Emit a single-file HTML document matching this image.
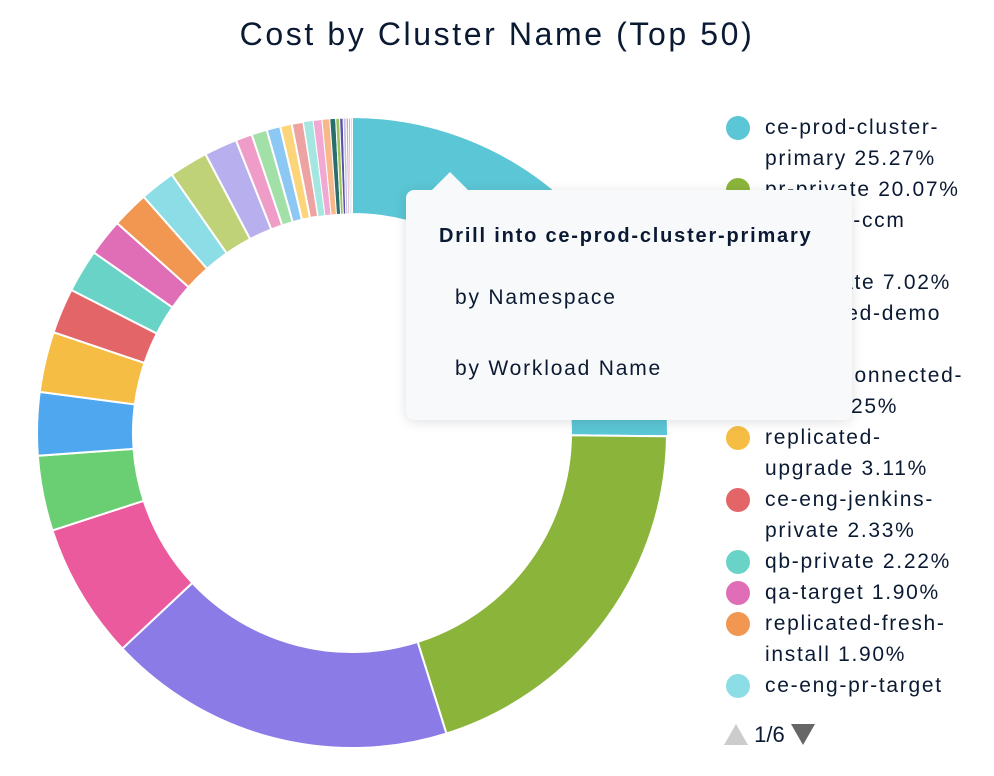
<!DOCTYPE html>
<html><head><meta charset="utf-8">
<style>
body{margin:0;background:#fff;font-family:"Liberation Sans",sans-serif;}
#wrap{position:relative;width:994px;height:776px;overflow:hidden;}
h1{position:absolute;top:16px;left:0;width:994px;text-align:center;margin:0;font-weight:normal;font-size:32px;letter-spacing:2.6px;color:#0b1a33;}
#legend{position:absolute;left:724px;top:112px;width:270px;height:594px;overflow:hidden;font-size:21px;letter-spacing:1.7px;color:#0b1a33;line-height:31px;white-space:nowrap;}
.it{position:relative;padding-left:41px;}
.it i{position:absolute;left:2px;top:4px;width:24px;height:24px;border-radius:50%;}
#tip{position:absolute;left:406px;top:190px;width:446px;height:230px;background:#f8f9fb;border-radius:8px;box-shadow:0 2px 12px rgba(0,0,0,.12);color:#0b1a33;font-size:21px;letter-spacing:1.8px;}
#tip:before{content:"";position:absolute;left:26px;top:-18px;border:18px solid transparent;border-top:0;border-bottom:18px solid #f8f9fb;}
#pg{position:absolute;left:724px;top:722px;font-size:22px;color:#0b1a33;}
</style></head><body><div id="wrap">
<h1>Cost by Cluster Name (Top 50)</h1>
<svg id="s" width="994" height="776" style="position:absolute;left:0;top:0"></svg>
<div id="legend">
<div class="it"><i style="background:#5bc6d5"></i>ce-prod-cluster-<br>primary 25.27%</div>
<div class="it"><i style="background:#8bb53a"></i>pr-private 20.07%</div>
<div class="it"><i style="background:#8a7be6"></i>ce-qa-ci-ccm<br>17.92%</div>
<div class="it"><i style="background:#eb5a9c"></i>qa-private 7.02%</div>
<div class="it"><i style="background:#6acf72"></i>replicated-demo<br>3.87%</div>
<div class="it"><i style="background:#4fa8ef"></i>airgap-connected-<br>br-qa 3.25%</div>
<div class="it"><i style="background:#f5bd43"></i>replicated-<br>upgrade 3.11%</div>
<div class="it"><i style="background:#e36567"></i>ce-eng-jenkins-<br>private 2.33%</div>
<div class="it"><i style="background:#6ad3c8"></i>qb-private 2.22%</div>
<div class="it"><i style="background:#df6eb6"></i>qa-target 1.90%</div>
<div class="it"><i style="background:#f29752"></i>replicated-fresh-<br>install 1.90%</div>
<div class="it"><i style="background:#8ddde6"></i>ce-eng-pr-target<br>1.82%</div>
</div>
<div id="pg"><svg width="24" height="22" style="vertical-align:-3px"><path d="M0,22 L12,1 L24,22Z" fill="#ccc"/></svg> 1/6 <svg width="24" height="22" style="vertical-align:-3px"><path d="M0,1 L24,1 L12,22Z" fill="#666"/></svg></div>
<div id="tip">
<div style="position:absolute;left:33px;top:35px;font-weight:bold;font-size:20px">Drill into ce-prod-cluster-primary</div>
<div style="position:absolute;left:49px;top:96px">by Namespace</div>
<div style="position:absolute;left:49px;top:167px">by Workload Name</div>
</div>
</div>
<script>
var d=[[25.27,'#5bc6d5'],[20.07,'#8bb53a'],[17.92,'#8a7be6'],[7.02,'#eb5a9c'],[3.87,'#6acf72'],[3.25,'#4fa8ef'],[3.11,'#f5bd43'],[2.33,'#e36567'],[2.22,'#6ad3c8'],[1.9,'#df6eb6'],[1.9,'#f29752'],[1.82,'#8ddde6'],
[2.0,'#c0d277'],[1.7,'#b8b0ee'],[0.85,'#f09cc8'],[0.8,'#a3e0a8'],[0.7,'#8dc8f5'],[0.6,'#fcd57a'],[0.6,'#eea3a3'],[0.5,'#a4e6e0'],[0.45,'#f1a9d4'],[0.4,'#f7b98a'],[0.3,'#2c6e6e'],[0.2,'#98c45a'],[0.18,'#5a4fb0'],[0.15,'#c0c0e0'],[0.12,'#e0a0c0'],[0.1,'#80d0c0'],[0.08,'#d0b0e0']];
var tot=0;d.forEach(function(s){tot+=s[0];});
var cx=352,cy=433,R=315,r=219,a=0,h='';
function p(ang,rad){var t=ang/100*2*Math.PI;return (cx+rad*Math.sin(t)).toFixed(2)+','+(cy-rad*Math.cos(t)).toFixed(2);}
d.forEach(function(s,i){var v=s[0]*100/tot,b=a+v,RR=i==0?316:R,rr=r,l=v>50?1:0;
h+='<path d="M'+p(a,RR)+' A'+RR+','+RR+' 0 '+l+' 1 '+p(b,RR)+' L'+p(b,rr)+' A'+rr+','+rr+' 0 '+l+' 0 '+p(a,rr)+'Z" fill="'+s[1]+'" stroke="#fff" stroke-width="'+(v<0.5?1:2)+'"/>';a=b;});
document.getElementById('s').innerHTML=h;
</script>
</body></html>
